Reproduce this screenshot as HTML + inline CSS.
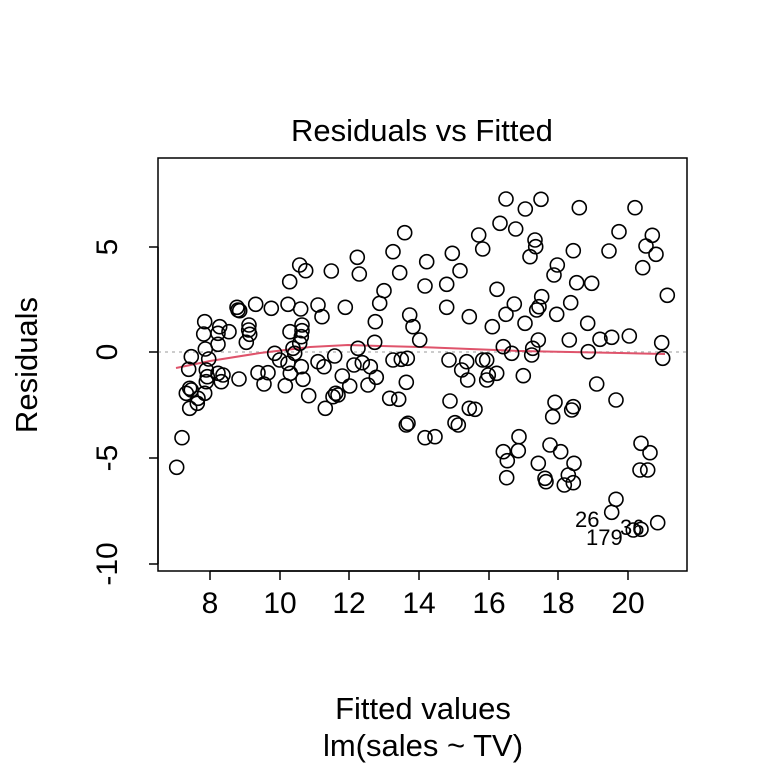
<!DOCTYPE html>
<html><head><meta charset="utf-8"><style>
html,body{margin:0;padding:0;background:#fff;}
svg text{font-family:"Liberation Sans",Arial,sans-serif;fill:#000;}
</style></head><body>
<svg id="s" width="768" height="768" viewBox="0 0 768 768" xmlns="http://www.w3.org/2000/svg">
<rect width="768" height="768" fill="#fff"/>
<text x="422" y="141" font-size="31" text-anchor="middle">Residuals vs Fitted</text>
<rect x="158" y="158" width="529" height="413" fill="none" stroke="#000" stroke-width="1.5"/>
<line x1="158" y1="352" x2="687" y2="352" stroke="#bbb" stroke-width="1.5" stroke-dasharray="3,4"/>
<g stroke="#000" stroke-width="1.5">
<line x1="210" y1="571" x2="628" y2="571"/>
<line x1="210" y1="571" x2="210" y2="580"/><line x1="280" y1="571" x2="280" y2="580"/>
<line x1="349" y1="571" x2="349" y2="580"/><line x1="419" y1="571" x2="419" y2="580"/>
<line x1="489" y1="571" x2="489" y2="580"/><line x1="558" y1="571" x2="558" y2="580"/>
<line x1="628" y1="571" x2="628" y2="580"/>
<line x1="158" y1="247" x2="158" y2="564"/>
<line x1="149" y1="247" x2="158" y2="247"/><line x1="149" y1="352" x2="158" y2="352"/>
<line x1="149" y1="458" x2="158" y2="458"/><line x1="149" y1="564" x2="158" y2="564"/>
</g>
<g font-size="30" text-anchor="middle">
<text x="210" y="613">8</text><text x="280" y="613">10</text><text x="349" y="613">12</text>
<text x="419" y="613">14</text><text x="489" y="613">16</text><text x="558" y="613">18</text>
<text x="628" y="613">20</text>
<text transform="translate(117,247) rotate(-90)">5</text>
<text transform="translate(117,352) rotate(-90)">0</text>
<text transform="translate(117,458) rotate(-90)">-5</text>
<text transform="translate(117,564) rotate(-90)">-10</text>
</g>
<g font-size="31" text-anchor="middle">
<text x="423" y="719">Fitted values</text>
<text x="423" y="756">lm(sales ~ TV)</text>
<text transform="translate(37,365) rotate(-90)">Residuals</text>
</g>
<polyline fill="none" stroke="#DF536B" stroke-width="2" points="176,368 210,361 260,353 310,347 348,345 380,346 420,347 470,349 520,351 570,352 620,353 665,354"/>
<g id="pts" fill="none" stroke="#000" stroke-width="1.6"></g>
<g font-size="22">
<text x="575" y="527">26</text>
<text x="586" y="545">179</text>
<text x="620" y="535">36</text>
</g>
</svg>
<script>
var a=[740,158,705,215,725,278,678,332,665,370,652,425,650,487,755,405,765,440,785,480,705,540,730,538,748,535,745,607,695,655,722,658,750,730,745,735,
598,232,604,282,520,273,562,382,600,505,530,528,588,555,613,548,637,560,655,592,630,615,575,618,553,588,533,640,525,650,540,645,502,685,452,647,480,545,498,560,480,375,492,410,
425,255,443,272,395,305,390,373,428,387,432,435,432,452,396,455,430,470,425,490,405,505,410,520,350,520,365,540,390,550,430,560,397,580,435,598,382,617,340,385,293,373,330,578,300,578,318,612,243,597,
237,382,245,392,240,390,273,435,272,450,275,463,265,487,213,455,185,440,180,460,180,493,140,425,137,462,142,507,100,530,152,537,92,568,145,570,148,590,180,580,195,585,190,605,145,605,85,640,95,625,100,630,140,640,120,655,118,670,95,685,72,773,56,862];
var b=[258,57,316,87,363,58,478,83,645,83,240,130,287,147,345,180,347,200,330,230,176,165,188,207,97,220,20,245,120,272,15,318,80,313,231,328,460,212,567,213,597,155,697,166,678,198,708,223,668,263,412,255,402,285,470,308,515,310,742,346,365,350,357,380,350,390,283,372,258,403,315,430,217,440,148,410,80,382,452,368,410,403,503,430,448,480,540,478,575,472,628,468,725,488,728,535,505,515,355,480,338,505,335,525,250,500,275,520,87,540,140,545,125,570,143,600,188,540,200,540,205,585,200,600,230,580,310,587,530,612,588,660,405,667,460,680,455,690,398,710,90,663,148,685,165,688,105,728,115,735,15,773,45,770,250,815,262,842,297,770,295,812,260,893,355,850,375,895,378,905,390,795,422,815,462,850,445,885,460,908,433,915,663,790,690,818,660,870,683,870,588,958,575,997,640,1050,663,1048,713,1028];
var g=document.getElementById('pts'),h='';
function add(arr,ox,oy){for(var i=0;i<arr.length;i+=2){h+='<circle cx="'+(arr[i]/3+ox).toFixed(1)+'" cy="'+(arr[i+1]/3+oy).toFixed(1)+'" r="7"/>';}}
add(a,158,180);add(b,420,180);
g.innerHTML=h;
</script>
</body></html>
